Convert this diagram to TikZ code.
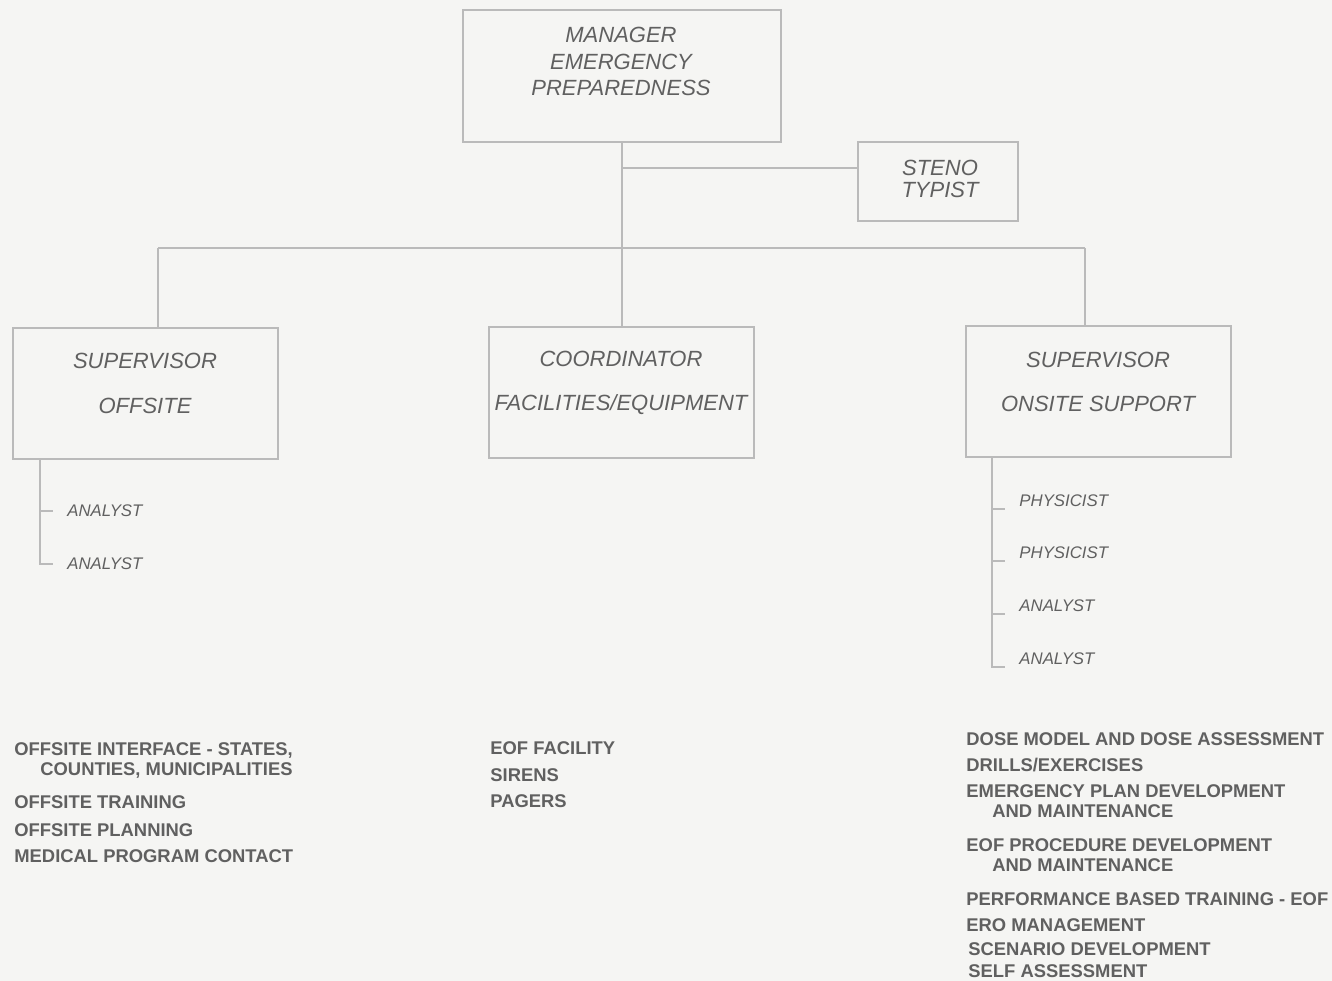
\documentclass[tikz,border=0pt]{standalone}
\usepackage{fontspec}
\setmainfont{Liberation Sans}
\usepackage{xcolor}
\usepackage{tikz}

\definecolor{inkgray}{RGB}{96,96,96}
\definecolor{rulegray}{RGB}{186,186,186}
\definecolor{paper}{RGB}{245,245,243}

\tikzset{
	box/.style={draw=rulegray,line width=0.55pt,inner sep=0pt},
	boxtext/.style={text=inkgray,align=center,font=\itshape\fontsize{11}{13.25}\selectfont},
	staff/.style={anchor=west,inner ysep=0pt,inner xsep=7pt,text=inkgray,font=\itshape\fontsize{8.4}{10}\selectfont},
	duty/.style={anchor=north west,inner sep=0pt,align=left,text=inkgray,font=\bfseries\fontsize{9.2}{10.25}\selectfont},
	link/.style={draw=rulegray,line width=0.55pt}
}

\begin{document}
\begin{tikzpicture}[x=0.5pt,y=-0.5pt]
	\useasboundingbox (0,0) rectangle (1332,980);
	\fill[paper] (-10,-10) rectangle (1342,990);
	% boxes
	\node[box,minimum width=159pt,minimum height=66pt] (mgr) at (622,76) {};
	\node[box,minimum width=80pt,minimum height=39.5pt] (steno) at (938,181.5) {};
	\node[box,minimum width=132.5pt,minimum height=65.5pt] (offs) at (145.5,393.5) {};
	\node[box,minimum width=132.5pt,minimum height=65.5pt] (coord) at (621.5,392.5) {};
	\node[box,minimum width=132.5pt,minimum height=65.5pt] (ons) at (1098.5,391.5) {};
	% box texts
	\node[boxtext] (mgrT) at (621,61.5) {MANAGER\\EMERGENCY\\PREPAREDNESS};
	\node[boxtext,font=\itshape\fontsize{11}{11}\selectfont] (stenoT) at (940,179) {STENO\\TYPIST};
	\node[boxtext] (offsT) at (145,383.5) {SUPERVISOR\\[9.25pt]OFFSITE};
	\node[boxtext] (coordT) at (621,383) {COORDINATOR\\[9pt]FACILITIES/EQUIPMENT};
	\node[boxtext] (onsT) at (1098,382) {SUPERVISOR\\[9pt]ONSITE SUPPORT};
	%
	\coordinate (tee) at (622,168);
	\coordinate (busL) at (158,248);
	\coordinate (busR) at (1085,248);
	% chain of command
	\draw[link] (mgr.south) -- (mgr.south |- coord.north);
	\draw[link] (tee) -- (tee -| steno.west);
	\draw[link] (busL) -- (busR);
	\draw[link] (busL) -- (busL |- offs.north);
	\draw[link] (busR) -- (busR |- ons.north);
	% offsite staff
	\node[staff] (offA1) at (53,511) {ANALYST};
	\node[staff] (offA2) at (53,564) {ANALYST};
	\coordinate (offStem) at (40,459);
	\draw[link] (offStem) |- (offA2.west);
	\draw[link] (offA1.west -| offStem) -- (offA1.west);
	% onsite staff
	\node[staff] (onsP1) at (1005,501) {PHYSICIST};
	\node[staff] (onsP2) at (1005,553) {PHYSICIST};
	\node[staff] (onsA1) at (1005,606) {ANALYST};
	\node[staff] (onsA2) at (1005,659) {ANALYST};
	\coordinate (onsStem) at (992,457);
	\draw[link] (onsStem) |- ([yshift=-4pt]onsA2.west);
	\foreach \n in {onsP1,onsP2,onsA1}
		\draw[link] ([yshift=-4pt]\n.west -| onsStem) -- ([yshift=-4pt]\n.west);
	% duties, offsite
	\node[duty] (d1) at (14,742) {OFFSITE INTERFACE - STATES,\\\hspace*{13pt}COUNTIES, MUNICIPALITIES};
	\node[duty] (d2) at (14,795) {OFFSITE TRAINING};
	\node[duty] (d3) at (14,823) {OFFSITE PLANNING};
	\node[duty] (d4) at (14,849) {MEDICAL PROGRAM CONTACT};
	% duties, facilities
	\node[duty] (f1) at (490,741) {EOF FACILITY};
	\node[duty] (f2) at (490,768) {SIRENS};
	\node[duty] (f3) at (490,794) {PAGERS};
	% duties, onsite
	\node[duty] (s1) at (966,732) {DOSE MODEL AND DOSE ASSESSMENT};
	\node[duty] (s2) at (966,758) {DRILLS/EXERCISES};
	\node[duty] (s3) at (966,784) {EMERGENCY PLAN DEVELOPMENT\\\hspace*{13pt}AND MAINTENANCE};
	\node[duty] (s4) at (966,838) {EOF PROCEDURE DEVELOPMENT\\\hspace*{13pt}AND MAINTENANCE};
	\node[duty] (s5) at (966,892) {PERFORMANCE BASED TRAINING - EOF};
	\node[duty] (s6) at (966,918) {ERO MANAGEMENT};
	\node[duty] (s7) at (968,942) {SCENARIO DEVELOPMENT};
	\node[duty] (s8) at (968,964) {SELF ASSESSMENT};
\end{tikzpicture}
\end{document}
